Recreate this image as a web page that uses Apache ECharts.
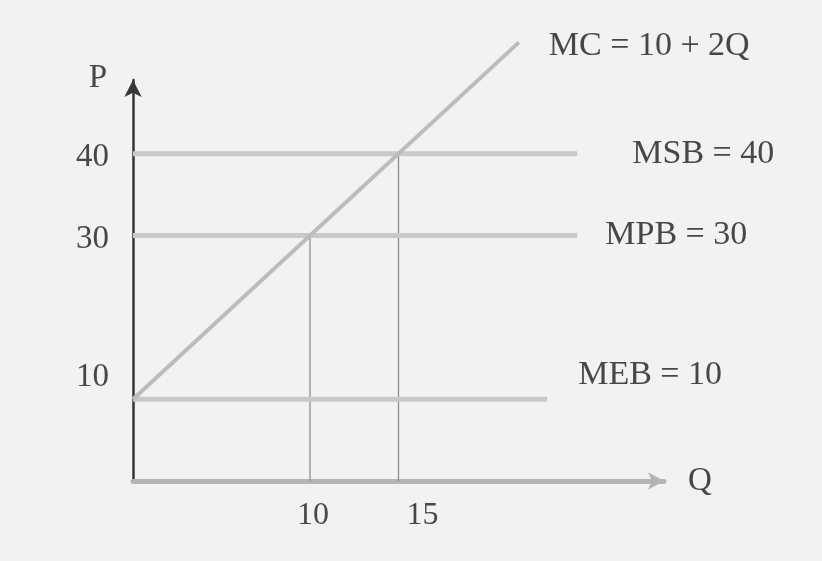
<!DOCTYPE html>
<html>
<head>
<meta charset="utf-8">
<script src="https://cdn.jsdelivr.net/npm/echarts@6/dist/echarts.min.js"></script>
<style>
html, body { margin: 0; background: #f2f2f0; }
#chart { width: 822px; height: 561px; }
</style>
</head>
<body>
<div id="chart"></div>
<script>
// tick labels shown on the axes
const qTicks = [10, 15];
const pTicks = [10, 30, 40];

// curves: [Q, P]
const mcLine = [[0, 10], [21.8, 53.6]];
const msbLine = [[0, 40], [25.1, 40]];
const mpbLine = [[0, 30], [25.1, 30]];
const mebLine = [[0, 10], [23.4, 10]];
// drop lines from the intersections
const dropQ10 = [[10, 0], [10, 30]];
const dropQ15 = [[15, 0], [15, 40]];

const labelFont = 'Liberation Serif';
const textColor = '#474747';

function curve(name, data, color, width, offset) {
    return {
        type: 'line',
        name: name,
        data: data,
        symbol: 'none',
        clip: false,
        silent: true,
        lineStyle: { color: color, width: width },
        endLabel: {
            show: true,
            formatter: name,
            offset: offset,
            color: textColor,
            fontFamily: labelFont,
            fontSize: 34
        },
        z: 3
    };
}

function dropLine(data) {
    return {
        type: 'line',
        data: data,
        symbol: 'none',
        silent: true,
        lineStyle: { color: '#8d8d8d', width: 1.3 },
        z: 2
    };
}

const chart = echarts.init(document.getElementById('chart'));
chart.setOption({
    backgroundColor: '#f2f2f0',
    animation: false,
    grid: { left: 133, right: 158, top: 80, bottom: 80 },
    xAxis: {
        type: 'value',
        min: 0,
        max: 30,
        interval: 5,
        name: 'Q',
        nameLocation: 'end',
        nameGap: 24,
        nameTextStyle: { color: textColor, fontFamily: labelFont, fontSize: 33, padding: [16, 0, 0, 0] },
        axisLine: {
            lineStyle: { color: '#b4b4b4', width: 5 },
            symbol: ['none', 'arrow'],
            symbolSize: [13, 16]
        },
        axisTick: { show: false },
        splitLine: { show: false },
        axisLabel: {
            margin: 19,
            color: textColor,
            fontFamily: labelFont,
            fontSize: 32,
            formatter: function (v) {
                if (v === 15) return '{r|' + v + '}';
                return qTicks.indexOf(v) >= 0 ? '{n|' + v + '}' : '';
            },
            rich: {
                n: { fontSize: 32, fontFamily: labelFont, color: textColor, padding: [0, 0, 0, 6] },
                r: { fontSize: 32, fontFamily: labelFont, color: textColor, padding: [0, 0, 0, 48] }
            }
        }
    },
    yAxis: {
        type: 'value',
        min: 0,
        max: 49,
        interval: 10,
        name: 'P',
        nameLocation: 'end',
        nameGap: -15,
        nameTextStyle: { color: textColor, fontFamily: labelFont, fontSize: 33, align: 'right', padding: [0, 26, 0, 0] },
        axisLine: {
            lineStyle: { color: '#363636', width: 2.5 },
            symbol: ['none', 'arrow'],
            symbolSize: [13, 17]
        },
        axisTick: { show: false },
        splitLine: { show: false },
        axisLabel: {
            margin: 24,
            color: textColor,
            fontFamily: labelFont,
            fontSize: 33,
            formatter: function (v) {
                if (v === 10) return '{up|' + v + '}';
                return pTicks.indexOf(v) >= 0 ? '{dn|' + v + '}' : '';
            },
            rich: {
                up: { fontSize: 33, fontFamily: labelFont, color: textColor, padding: [0, 0, 44, 0] },
                dn: { fontSize: 33, fontFamily: labelFont, color: textColor, padding: [8, 0, 0, 0] }
            }
        }
    },
    series: [
        dropLine(dropQ10),
        dropLine(dropQ15),
        curve('MSB = 40', msbLine, '#c9c9c9', 5, [47, 0]),
        curve('MPB = 30', mpbLine, '#c9c9c9', 5, [20, 0]),
        curve('MEB = 10', mebLine, '#c9c9c9', 5, [23, -24]),
        curve('MC = 10 + 2Q', mcLine, '#bcbcbc', 4, [22, 4])
    ]
});
</script>
</body>
</html>
